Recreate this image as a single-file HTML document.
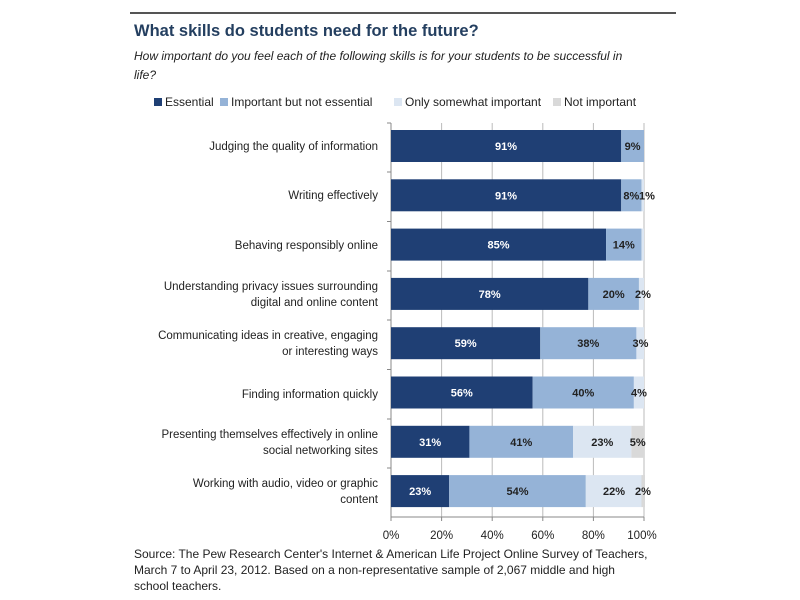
<!DOCTYPE html><html><head><style>body{margin:0;background:#fff}svg{display:block}text{font-family:"Liberation Sans",sans-serif}</style></head><body>
<svg width="800" height="600" xmlns="http://www.w3.org/2000/svg">
<line x1="130" y1="13" x2="676" y2="13" stroke="#555" stroke-width="2"/>
<text x="134" y="36" font-size="16.5" font-weight="bold" fill="#243f60">What skills do students need for the future?</text>
<text x="134" y="60" font-size="12" font-style="italic" fill="#222">How important do you feel each of the following skills is for your students to be successful in</text>
<text x="134" y="79" font-size="12" font-style="italic" fill="#222">life?</text>
<g font-size="12" fill="#222">
<rect x="154" y="98" width="8" height="8" fill="#1f3f74"/><text x="165" y="106">Essential</text>
<rect x="220" y="98" width="8" height="8" fill="#95b3d7"/><text x="231" y="106">Important but not essential</text>
<rect x="394" y="98" width="8" height="8" fill="#dce6f2"/><text x="405" y="106">Only somewhat important</text>
<rect x="553" y="98" width="8" height="8" fill="#d9d9d9"/><text x="564" y="106">Not important</text>
</g>
<g stroke="#bbb" stroke-width="1">
<line x1="441.6" y1="123" x2="441.6" y2="517"/><line x1="492.2" y1="123" x2="492.2" y2="517"/><line x1="542.8" y1="123" x2="542.8" y2="517"/><line x1="593.4" y1="123" x2="593.4" y2="517"/><line x1="644" y1="123" x2="644" y2="517"/>
</g>
<g stroke="#888" stroke-width="1">
<line x1="391" y1="123" x2="391" y2="517"/><line x1="391" y1="517" x2="644" y2="517"/>
<line x1="387" y1="123" x2="391" y2="123"/><line x1="387" y1="172" x2="391" y2="172"/><line x1="387" y1="221.5" x2="391" y2="221.5"/><line x1="387" y1="271" x2="391" y2="271"/><line x1="387" y1="320" x2="391" y2="320"/><line x1="387" y1="369.5" x2="391" y2="369.5"/><line x1="387" y1="419" x2="391" y2="419"/><line x1="387" y1="468" x2="391" y2="468"/>
<line x1="391" y1="517" x2="391" y2="521"/><line x1="441.6" y1="517" x2="441.6" y2="521"/><line x1="492.2" y1="517" x2="492.2" y2="521"/><line x1="542.8" y1="517" x2="542.8" y2="521"/><line x1="593.4" y1="517" x2="593.4" y2="521"/><line x1="644" y1="517" x2="644" y2="521"/>
</g>
<g>
<rect x="391" y="130" width="230.23" height="32" fill="#1f3f74"/><rect x="621.23" y="130" width="22.77" height="32" fill="#95b3d7"/>
<rect x="391" y="179.3" width="230.23" height="32" fill="#1f3f74"/><rect x="621.23" y="179.3" width="20.24" height="32" fill="#95b3d7"/><rect x="641.47" y="179.3" width="2.53" height="32" fill="#dce6f2"/>
<rect x="391" y="228.6" width="215.05" height="32" fill="#1f3f74"/><rect x="606.05" y="228.6" width="35.42" height="32" fill="#95b3d7"/><rect x="641.47" y="228.6" width="2.53" height="32" fill="#dce6f2"/>
<rect x="391" y="277.9" width="197.34" height="32" fill="#1f3f74"/><rect x="588.34" y="277.9" width="50.6" height="32" fill="#95b3d7"/><rect x="638.94" y="277.9" width="5.06" height="32" fill="#dce6f2"/>
<rect x="391" y="327.2" width="149.27" height="32" fill="#1f3f74"/><rect x="540.27" y="327.2" width="96.14" height="32" fill="#95b3d7"/><rect x="636.41" y="327.2" width="7.59" height="32" fill="#dce6f2"/>
<rect x="391" y="376.5" width="141.68" height="32" fill="#1f3f74"/><rect x="532.68" y="376.5" width="101.2" height="32" fill="#95b3d7"/><rect x="633.88" y="376.5" width="10.12" height="32" fill="#dce6f2"/>
<rect x="391" y="425.8" width="78.43" height="32" fill="#1f3f74"/><rect x="469.43" y="425.8" width="103.73" height="32" fill="#95b3d7"/><rect x="573.16" y="425.8" width="58.19" height="32" fill="#dce6f2"/><rect x="631.35" y="425.8" width="12.65" height="32" fill="#d9d9d9"/>
<rect x="391" y="475.1" width="58.19" height="32" fill="#1f3f74"/><rect x="449.19" y="475.1" width="136.62" height="32" fill="#95b3d7"/><rect x="585.81" y="475.1" width="56.66" height="32" fill="#dce6f2"/><rect x="641.47" y="475.1" width="3.53" height="32" fill="#d9d9d9"/>
</g>
<g font-size="11" font-weight="bold" text-anchor="middle" fill="#fff">
<text x="506" y="150">91%</text><text x="506" y="199.3">91%</text><text x="498.5" y="248.6">85%</text><text x="489.7" y="297.9">78%</text><text x="465.6" y="347.2">59%</text><text x="461.8" y="396.5">56%</text><text x="430.2" y="445.8">31%</text><text x="420.1" y="495.1">23%</text>
</g>
<g font-size="11" font-weight="bold" text-anchor="middle" fill="#222">
<text x="632.6" y="150">9%</text>
<text x="631.3" y="199.3">8%</text><text x="647" y="199.3">1%</text>
<text x="623.8" y="248.6">14%</text>
<text x="613.6" y="297.9">20%</text><text x="643" y="297.9">2%</text>
<text x="588.3" y="347.2">38%</text><text x="640.5" y="347.2">3%</text>
<text x="583.3" y="396.5">40%</text><text x="639" y="396.5">4%</text>
<text x="521.3" y="445.8">41%</text><text x="602.3" y="445.8">23%</text><text x="637.7" y="445.8">5%</text>
<text x="517.5" y="495.1">54%</text><text x="614" y="495.1">22%</text><text x="643" y="495.1">2%</text>
</g>
<g font-size="11.5" fill="#222" text-anchor="end">
<text x="378" y="150">Judging the quality of information</text>
<text x="378" y="199">Writing effectively</text>
<text x="378" y="249">Behaving responsibly online</text>
<text x="378" y="290">Understanding privacy issues surrounding</text><text x="378" y="306">digital and online content</text>
<text x="378" y="339">Communicating ideas in creative, engaging</text><text x="378" y="355">or interesting ways</text>
<text x="378" y="398">Finding information quickly</text>
<text x="378" y="438">Presenting themselves effectively in online</text><text x="378" y="454">social networking sites</text>
<text x="378" y="487">Working with audio, video or graphic</text><text x="378" y="503">content</text>
</g>
<g font-size="11.5" fill="#222" text-anchor="middle">
<text x="391" y="539">0%</text><text x="441.6" y="539">20%</text><text x="492.2" y="539">40%</text><text x="542.8" y="539">60%</text><text x="593.4" y="539">80%</text><text x="642" y="539">100%</text>
</g>
<g font-size="12" fill="#222">
<text x="134" y="558">Source: The Pew Research Center's Internet &amp; American Life Project Online Survey of Teachers,</text>
<text x="134" y="574">March 7 to April 23, 2012.  Based on a non-representative sample of 2,067 middle and high</text>
<text x="134" y="590">school teachers.</text>
</g>
</svg></body></html>
